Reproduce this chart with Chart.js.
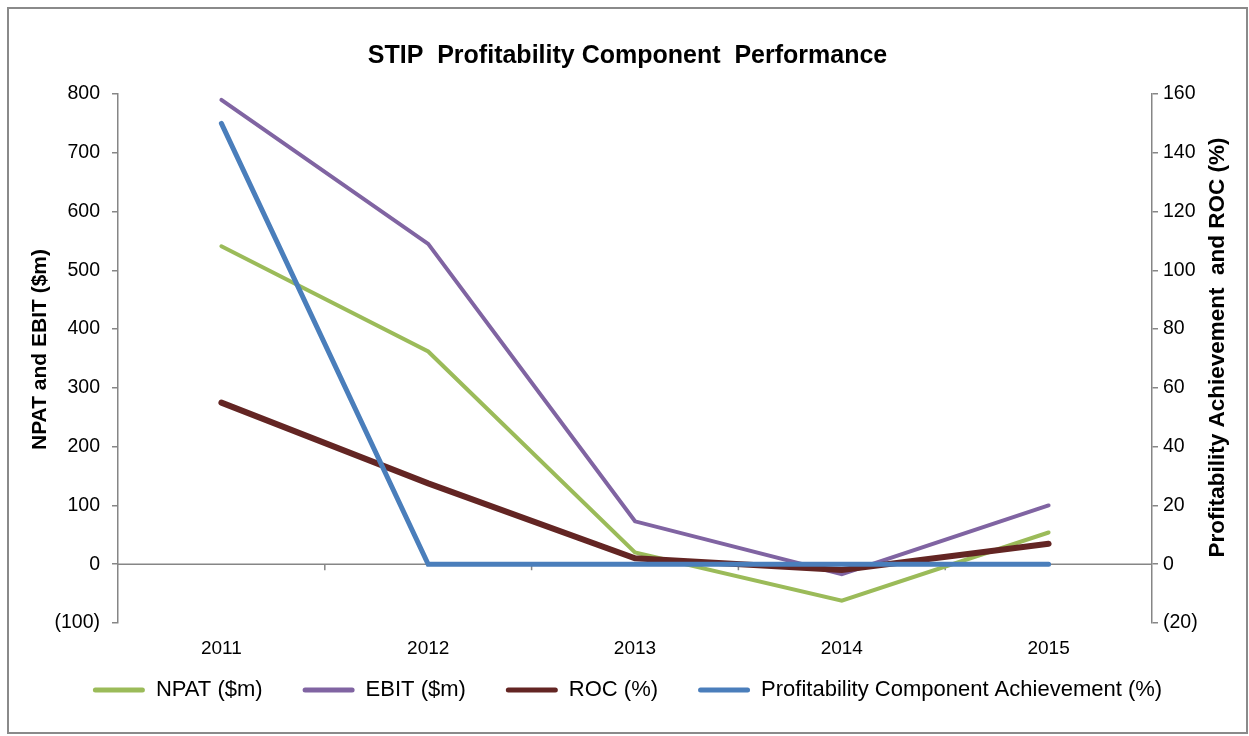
<!DOCTYPE html>
<html>
<head>
<meta charset="utf-8">
<script src="https://cdn.jsdelivr.net/npm/chart.js@4.4.1/dist/chart.umd.min.js"></script>
<style>
	body { margin: 0; background: #fff; }
	.chart-box {
		position: absolute;
		left: 7px;
		top: 7px;
		width: 1241px;
		height: 727px;
		box-sizing: border-box;
		border: 2px solid #8a8a8a;
		background: #fff;
	}
</style>
</head>
<body>
<div class="chart-box"><canvas id="myChart"></canvas></div>
<script>
const years = ["2011", "2012", "2013", "2014", "2015"];
const npat = [541, 362, 20, -62, 54];
const ebit = [790, 545, 73, -17, 100];
const roc = [55, 27.5, 2, -2, 7];
const profAchievement = [150, 0, 0, 0, 0];

const FONT = "'Liberation Sans', Arial, sans-serif";
const AXIS_GREY = "#868686";

// brackets for negatives, like the Excel number format
const fmt = (v) => (v < 0 ? "(" + Math.abs(v) + ")" : String(v));

// zero line across the plot with the category tick marks hanging off it
const zeroLine = {
	id: "zero_line",
	beforeDatasetsDraw: (chart) => {
		const ctx = chart.ctx;
		const x = chart.scales.x;
		const y0 = chart.scales.y.getPixelForValue(0);
		ctx.save();
		ctx.strokeStyle = AXIS_GREY;
		ctx.lineWidth = 1.5;
		ctx.beginPath();
		ctx.moveTo(x.left, y0);
		ctx.lineTo(x.right, y0);
		for (let i = 0; i < years.length - 1; i++) {
			const bx = (x.getPixelForValue(i) + x.getPixelForValue(i + 1)) / 2;
			ctx.moveTo(bx, y0);
			ctx.lineTo(bx, y0 + 6);
		}
		ctx.stroke();
		ctx.restore();
	}
};

// both axis titles read bottom-to-top and sit a little above the middle
const axisTitles = {
	id: "axis_titles",
	afterDraw: (chart) => {
		const ctx = chart.ctx;
		const mid = (chart.chartArea.top + chart.chartArea.bottom) / 2;
		const drawTitle = (text, x, y, size) => {
			ctx.save();
			ctx.translate(x, y);
			ctx.rotate(-Math.PI / 2);
			ctx.font = "bold " + size + "px " + FONT;
			ctx.fillStyle = "#000";
			ctx.textAlign = "center";
			ctx.textBaseline = "middle";
			ctx.fillText(text, 0, 0);
			ctx.restore();
		};
		drawTitle("NPAT and EBIT ($m)", chart.scales.y.left + 31, mid - 9, 21);
		drawTitle("Profitability Achievement  and ROC (%)", chart.scales.y1.right - 28, mid - 11, 22.5);
	}
};

// lift the legend so it sits where the reference has it
const legendLift = {
	id: "legend_lift",
	afterLayout: (chart) => {
		const lg = chart.legend;
		const shift = lg.top - (chart.chartArea.bottom + 16);
		lg.top -= shift;
		lg.bottom -= shift;
	}
};

const ctx = document.getElementById("myChart").getContext("2d");

new Chart(ctx, {
	type: "line",
	data: {
		labels: years,
		datasets: [
			{
				label: "NPAT ($m)",
				data: npat,
				yAxisID: "y",
				borderColor: "#9bbb59",
				backgroundColor: "#9bbb59",
				borderWidth: 4,
				order: 3
			},
			{
				label: "EBIT ($m)",
				data: ebit,
				yAxisID: "y",
				borderColor: "#8064a2",
				backgroundColor: "#8064a2",
				borderWidth: 4,
				order: 2
			},
			{
				label: "ROC (%)",
				data: roc,
				yAxisID: "y1",
				borderColor: "#632523",
				backgroundColor: "#632523",
				borderWidth: 6,
				order: 1
			},
			{
				label: "Profitability Component Achievement (%)",
				data: profAchievement,
				yAxisID: "y1",
				borderColor: "#4a7ebb",
				backgroundColor: "#4a7ebb",
				borderWidth: 5,
				order: 0
			}
		]
	},
	plugins: [zeroLine, axisTitles, legendLift],
	options: {
		responsive: true,
		maintainAspectRatio: false,
		animation: false,
		layout: {
			padding: { left: 0, right: 0, top: 0, bottom: 0 }
		},
		elements: {
			point: { radius: 0, hoverRadius: 0 },
			line: { tension: 0, borderCapStyle: "round" }
		},
		scales: {
			x: {
				offset: true,
				grid: { display: false, drawTicks: false },
				border: { display: false },
				ticks: {
					color: "#000",
					font: { family: FONT, size: 19 },
					padding: 14,
					autoSkip: false,
					maxRotation: 0
				},
				afterFit: (scale) => {
					scale.height = 37;
				}
			},
			y: {
				position: "left",
				min: -100,
				max: 800,
				grid: {
					drawOnChartArea: false,
					color: AXIS_GREY,
					tickLength: 6,
					lineWidth: 1.5
				},
				border: { color: AXIS_GREY, width: 1.5 },
				ticks: {
					stepSize: 100,
					color: "#000",
					font: { family: FONT, size: 19.5 },
					padding: 12,
					callback: (v) => fmt(v)
				},
				afterFit: (scale) => {
					scale.width = 109;
				}
			},
			y1: {
				position: "right",
				min: -20,
				max: 160,
				grid: {
					drawOnChartArea: false,
					color: AXIS_GREY,
					tickLength: 6,
					lineWidth: 1.5
				},
				border: { color: AXIS_GREY, width: 1.5 },
				ticks: {
					stepSize: 20,
					color: "#000",
					font: { family: FONT, size: 19.5 },
					padding: 5,
					callback: (v) => fmt(v)
				},
				afterFit: (scale) => {
					scale.width = 94;
				}
			}
		},
		plugins: {
			title: {
				display: true,
				text: "STIP  Profitability Component  Performance",
				color: "#000",
				font: { family: FONT, size: 25, weight: "bold" },
				padding: { top: 32, bottom: 23 }
			},
			legend: {
				display: true,
				position: "bottom",
				labels: {
					boxWidth: 52,
					boxHeight: 5,
					padding: 40,
					color: "#000",
					font: { family: FONT, size: 22 },
					useBorderRadius: true,
					borderRadius: 2.5,
					sort: (a, b) => a.datasetIndex - b.datasetIndex,
					generateLabels: (chart) =>
						Chart.defaults.plugins.legend.labels
							.generateLabels(chart)
							.map((item) => ({ ...item, lineWidth: 0 }))
				}
			},
			tooltip: { enabled: false }
		}
	}
});
</script>
</body>
</html>
